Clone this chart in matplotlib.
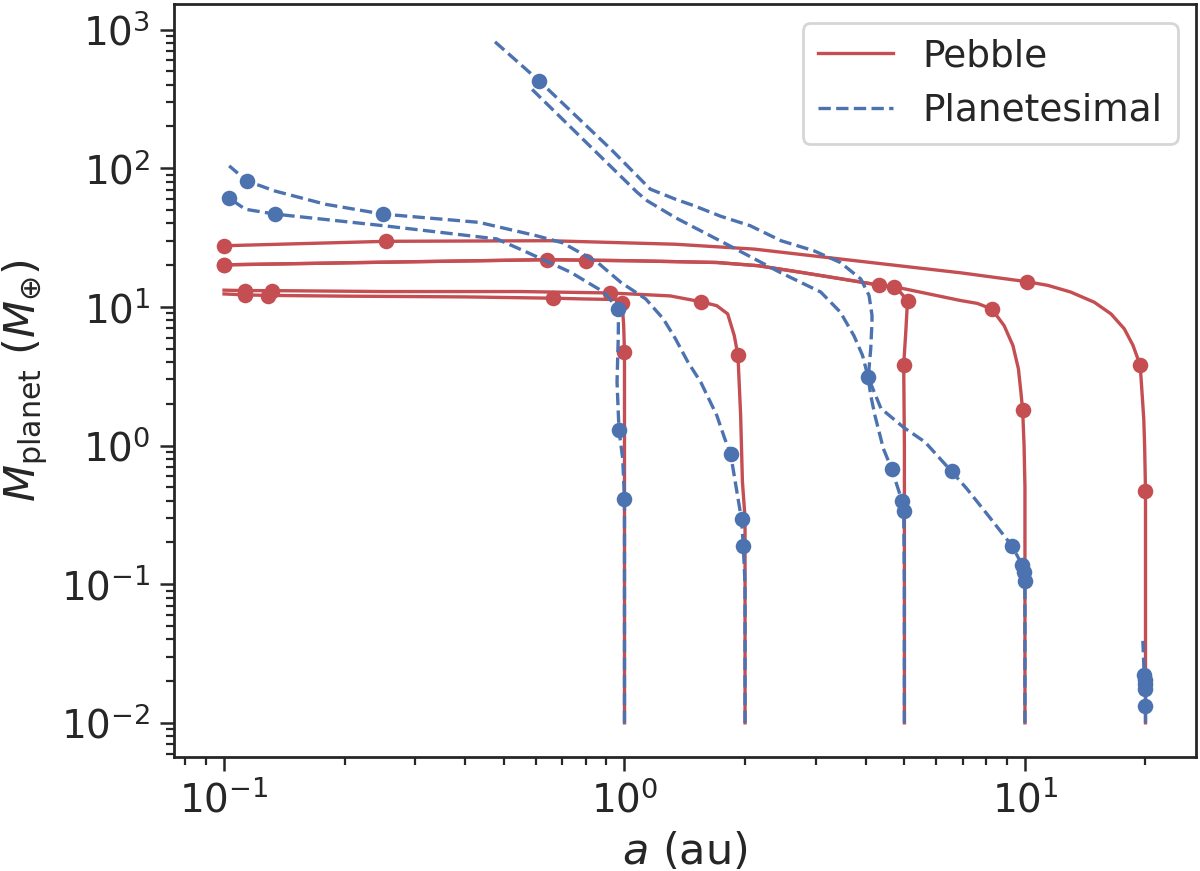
import matplotlib
matplotlib.use("Agg")
import matplotlib.pyplot as plt
from matplotlib.lines import Line2D

# colours (seaborn "deep")
red = "#C44E52"
blue = "#4C72B0"

# ---- pebble accretion tracks (a in au, M in Earth masses) ----
peb_1_a = [1.0, 1.0, 1.0, 1.0, 0.995, 0.986, 0.95, 0.80, 0.662, 0.40, 0.20, 0.129, 0.113, 0.1]
peb_1_m = [0.01, 0.1, 1.0, 4.72, 7.5, 10.7, 11.3, 11.4, 11.55, 11.8, 11.95, 12.1, 12.2, 12.4]
peb_1_dot_a = [1.0, 0.986, 0.662, 0.129, 0.113]
peb_1_dot_m = [4.72, 10.7, 11.55, 12.0, 12.1]

peb_2_a = [2.0, 2.0, 2.0, 1.97, 1.95, 1.92, 1.88, 1.81, 1.70, 1.55, 1.30, 0.92, 0.55, 0.25, 0.132, 0.113, 0.1]
peb_2_m = [0.01, 0.1, 0.3, 0.55, 1.65, 4.47, 6.2, 8.9, 10.2, 10.9, 12.0, 12.6, 12.9, 12.9, 13.1, 13.1, 13.2]
peb_2_dot_a = [1.92, 1.55, 0.92, 0.132, 0.113]
peb_2_dot_m = [4.47, 10.9, 12.6, 13.1, 13.1]

peb_5_a = [5.0, 5.0, 5.0, 4.98, 5.04, 5.09, 4.76, 4.36, 3.49, 2.74, 2.16, 1.70, 1.05, 0.64, 0.25, 0.1]
peb_5_m = [0.01, 0.1, 1.0, 3.83, 6.6, 11.1, 13.9, 14.3, 15.9, 17.8, 19.8, 20.9, 21.5, 21.9, 21.0, 20.1]
peb_5_dot_a = [4.98, 5.09, 4.70, 0.64, 0.1]
peb_5_dot_m = [3.83, 11.1, 14.0, 21.9, 20.1]

peb_10_a = [10.0, 10.0, 10.0, 9.95, 9.87, 9.77, 9.63, 9.33, 8.87, 8.26, 7.6, 6.92, 4.76, 4.36, 3.49,
            2.74, 2.16, 1.70, 1.05, 0.64, 0.25, 0.1]
peb_10_m = [0.01, 0.1, 0.5, 1.0, 1.79, 2.43, 3.58, 5.27, 7.33, 9.67, 10.6, 11.1, 13.9, 14.3, 15.9,
            17.8, 19.8, 20.9, 21.5, 21.9, 21.0, 20.1]
peb_10_dot_a = [9.87, 8.26, 4.32, 0.80, 0.1]
peb_10_dot_m = [1.79, 9.67, 14.3, 21.6, 20.1]

peb_20_a = [20.0, 20.0, 20.0, 19.9, 19.8, 19.6, 19.4, 18.6, 17.7, 16.4, 14.9, 13.0, 11.4, 10.1,
            6.92, 4.43, 2.11, 1.34, 0.65, 0.254, 0.1]
peb_20_m = [0.01, 0.1, 0.47, 1.0, 1.56, 2.43, 3.8, 5.3, 6.95, 8.9, 10.8, 12.8, 14.3, 15.2,
            17.6, 20.4, 26.1, 28.3, 30.0, 29.7, 27.6]
peb_20_dot_a = [20.0, 19.4, 10.1, 0.254, 0.1]
peb_20_dot_m = [0.47, 3.8, 15.2, 29.7, 27.6]

# ---- planetesimal accretion tracks ----
pla_1_a = [1.0, 1.0, 1.0, 0.99, 0.969, 0.958, 0.965, 0.966, 0.887, 0.733, 0.56, 0.48, 0.25, 0.134, 0.113, 0.103]
pla_1_m = [0.01, 0.1, 0.41, 0.8, 1.29, 2.87, 6.2, 9.67, 12.8, 17.8, 25.4, 30.9, 38.5, 46.7, 50.6, 60.8]
pla_1_dot_a = [1.0, 0.969, 0.966, 0.134, 0.103]
pla_1_dot_m = [0.41, 1.29, 9.67, 46.7, 60.8]

pla_2_a = [2.0, 2.0, 1.98, 1.96, 1.89, 1.84, 1.78, 1.70, 1.55, 1.44, 1.34, 1.25, 1.13, 0.98, 0.855,
           0.70, 0.60, 0.433, 0.249, 0.179, 0.134, 0.114, 0.103]
pla_2_m = [0.01, 0.1, 0.19, 0.293, 0.55, 0.876, 1.12, 1.65, 2.87, 4.0, 5.9, 8.2, 11.4, 15.0, 21.0,
           29.0, 32.7, 40.7, 46.7, 55.0, 68.5, 81.0, 104.0]
pla_2_dot_a = [1.98, 1.96, 1.84, 0.249, 0.114]
pla_2_dot_m = [0.19, 0.293, 0.876, 46.7, 81.0]

pla_5_a = [5.0, 5.0, 4.98, 4.93, 4.65, 4.43, 4.22, 4.12, 4.06, 4.08, 4.12, 4.15, 4.15, 4.08, 3.89,
           3.46, 2.97, 2.46, 2.06, 1.74, 1.49, 1.34, 1.16, 0.93, 0.613, 0.465]
pla_5_m = [0.01, 0.1, 0.335, 0.40, 0.675, 0.95, 1.65, 2.3, 3.1, 3.6, 5.0, 7.8, 8.7, 12.1, 15.9,
           20.9, 25.4, 30.0, 38.5, 45.0, 53.7, 59.8, 70.6, 135.0, 425.0, 861.0]
pla_5_dot_a = [4.98, 4.93, 4.65, 4.06, 0.613]
pla_5_dot_m = [0.335, 0.40, 0.675, 3.1, 425.0]

pla_10_a = [10.0, 10.0, 10.0, 9.95, 9.84, 9.27, 8.08, 7.15, 6.56, 5.63, 4.98, 4.37, 4.06, 3.93,
            3.74, 3.46, 3.09, 2.44, 1.83, 1.34, 1.14, 1.076, 0.588]
pla_10_m = [0.01, 0.05, 0.105, 0.122, 0.138, 0.19, 0.315, 0.49, 0.65, 1.06, 1.35, 1.85, 3.1, 4.47,
            6.2, 9.16, 12.8, 17.8, 27.6, 44.0, 58.2, 66.9, 370.0]
pla_10_dot_a = [10.0, 9.95, 9.84, 9.27, 6.56]
pla_10_dot_m = [0.105, 0.122, 0.138, 0.19, 0.65]

pla_20_a = [20.0, 20.0, 20.0, 20.0, 19.95, 19.85, 19.7]
pla_20_m = [0.01, 0.0133, 0.0174, 0.0192, 0.0205, 0.022, 0.039]
pla_20_dot_a = [20.0, 20.0, 20.0, 19.95, 19.85]
pla_20_dot_m = [0.0133, 0.0174, 0.0192, 0.0205, 0.022]

pebble_tracks = [
    (peb_1_a, peb_1_m, peb_1_dot_a, peb_1_dot_m),
    (peb_2_a, peb_2_m, peb_2_dot_a, peb_2_dot_m),
    (peb_5_a, peb_5_m, peb_5_dot_a, peb_5_dot_m),
    (peb_10_a, peb_10_m, peb_10_dot_a, peb_10_dot_m),
    (peb_20_a, peb_20_m, peb_20_dot_a, peb_20_dot_m),
]
plan_tracks = [
    (pla_1_a, pla_1_m, pla_1_dot_a, pla_1_dot_m),
    (pla_2_a, pla_2_m, pla_2_dot_a, pla_2_dot_m),
    (pla_5_a, pla_5_m, pla_5_dot_a, pla_5_dot_m),
    (pla_10_a, pla_10_m, pla_10_dot_a, pla_10_dot_m),
    (pla_20_a, pla_20_m, pla_20_dot_a, pla_20_dot_m),
]

dark = "#262626"
plt.rcParams.update({
    "font.family": ["DejaVu Sans"],
    "text.color": dark,
    "axes.labelcolor": dark,
    "axes.edgecolor": dark,
    "xtick.color": dark,
    "ytick.color": dark,
    "axes.linewidth": 1.0,
    "xtick.major.width": 0.9,
    "ytick.major.width": 0.9,
    "xtick.minor.width": 0.8,
    "ytick.minor.width": 0.8,
    "xtick.major.size": 5.0,
    "ytick.major.size": 5.0,
    "xtick.minor.size": 3.0,
    "ytick.minor.size": 3.0,
    "xtick.labelsize": 14,
    "ytick.labelsize": 14,
    "axes.labelsize": 15.5,
    "legend.fontsize": 13.5,
})

fig = plt.figure(figsize=(6, 4.355), dpi=200)
ax = fig.add_axes([0.145, 0.131, 0.852, 0.864])

lw = 1.2
ms = 5.6
for a, m, da, dm in pebble_tracks:
    ax.plot(a, m, color=red, lw=lw, ls="-")
    ax.plot(da, dm, "o", color=red, ms=ms, mew=0)
for a, m, da, dm in plan_tracks:
    ax.plot(a, m, color=blue, lw=lw, ls="--")
    ax.plot(da, dm, "o", color=blue, ms=ms, mew=0)

ax.set_xscale("log")
ax.set_yscale("log")
ax.set_xlim(0.075, 26.8)
ax.set_ylim(0.00568, 1520)

ax.set_xlabel(r"$a$ (au)")
ax.set_ylabel(r"$M_{\rm planet}$ ($M_{\oplus}$)")

handles = [Line2D([], [], color=red, lw=lw, ls="-"),
           Line2D([], [], color=blue, lw=lw, ls="--")]
leg = ax.legend(handles, ["Pebble", "Planetesimal"], loc="upper right")
leg.get_frame().set_edgecolor("0.8")

fig.savefig("out.png", dpi=200)
